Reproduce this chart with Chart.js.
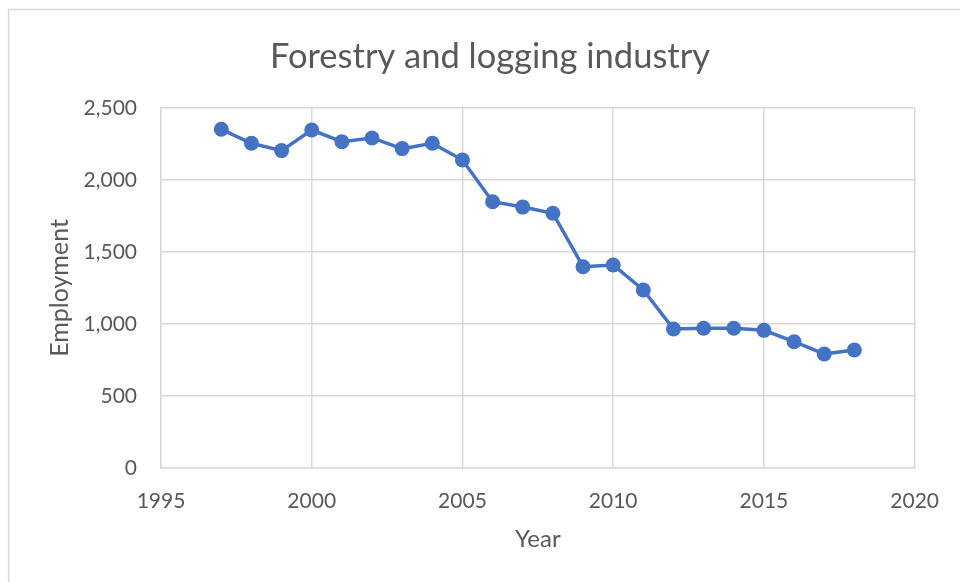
<!DOCTYPE html>
<html>
<head>
<meta charset="utf-8">
<title>Forestry and logging industry</title>
<script src="https://cdn.jsdelivr.net/npm/chart.js@4/dist/chart.umd.min.js"></script>
<style>
  html, body { margin: 0; padding: 0; background: #ffffff; }
  #wrap { width: 960px; height: 582px; position: relative; }
</style>
</head>
<body>
<div id="wrap"><canvas id="chart" width="960" height="582"></canvas></div>
<script>
// Employment in the forestry and logging industry, by year
const years = [1997, 1998, 1999, 2000, 2001, 2002, 2003, 2004, 2005, 2006, 2007,
               2008, 2009, 2010, 2011, 2012, 2013, 2014, 2015, 2016, 2017, 2018];
const employment = [2352, 2255, 2204, 2347, 2266, 2292, 2218, 2255, 2139, 1849, 1812,
                    1769, 1398, 1410, 1236, 965, 970, 970, 956, 877, 792, 819];
const xTicks = [1995, 2000, 2005, 2010, 2015, 2020];
const yTicks = [0, 500, 1000, 1500, 2000, 2500];

const FONT = "Lato, 'Open Sans', 'Liberation Sans', sans-serif";
const TEXT = '#595959';
const GRID = '#d9d9d9';
const SERIES = '#4472C4';

const points = years.map((y, i) => ({ x: y, y: employment[i] }));

// Light outline along the top and left edges of the chart frame
const frame = {
  id: 'frame',
  beforeDraw(chart) {
    const ctx = chart.ctx;
    ctx.save();
    ctx.fillStyle = '#ffffff';
    ctx.fillRect(0, 0, chart.width, chart.height);
    ctx.strokeStyle = GRID;
    ctx.lineWidth = 1.5;
    ctx.beginPath();
    ctx.moveTo(8.5, chart.height);
    ctx.lineTo(8.5, 9.5);
    ctx.lineTo(chart.width, 9.5);
    ctx.stroke();
    ctx.restore();
  }
};

new Chart(document.getElementById('chart'), {
  type: 'scatter',
  data: {
    datasets: [{
      label: 'Employment',
      data: points,
      showLine: true,
      borderColor: SERIES,
      backgroundColor: SERIES,
      borderWidth: 3.5,
      pointRadius: 7.5,
      pointHoverRadius: 7.5,
      pointBorderWidth: 0,
      tension: 0
    }]
  },
  options: {
    responsive: false,
    animation: false,
    events: [],
    layout: { padding: { left: 20, right: 0, top: 0, bottom: 0 } },
    plugins: {
      legend: { display: false },
      tooltip: { enabled: false },
      title: {
        display: true,
        text: 'Forestry and logging industry',
        color: TEXT,
        font: { family: FONT, size: 34.5, weight: 'normal', lineHeight: 1.2 },
        padding: { top: 36, bottom: 30.6 }
      }
    },
    scales: {
      x: {
        type: 'linear',
        min: 1995,
        max: 2020,
        afterBuildTicks(scale) { scale.ticks = xTicks.map(v => ({ value: v })); },
        afterFit(scale) { scale.height = 114; },
        grid: { color: GRID, lineWidth: 1.5, drawTicks: false },
        border: { color: GRID, width: 1.5 },
        ticks: {
          color: TEXT,
          font: { family: FONT, size: 21 },
          padding: 21,
          maxRotation: 0,
          callback: v => String(v)
        },
        title: {
          display: true,
          text: 'Year',
          color: TEXT,
          font: { family: FONT, size: 24 },
          padding: { top: 0, bottom: 28 }
        }
      },
      y: {
        type: 'linear',
        min: 0,
        max: 2500,
        afterBuildTicks(scale) { scale.ticks = yTicks.map(v => ({ value: v })); },
        afterFit(scale) { scale.width = 141; },
        grid: { color: GRID, lineWidth: 1.5, drawTicks: false },
        border: { color: GRID, width: 1.5 },
        ticks: {
          color: TEXT,
          font: { family: FONT, size: 21 },
          padding: 24,
          callback: v => v.toLocaleString('en-US')
        },
        title: {
          display: true,
          text: 'Employment',
          color: TEXT,
          font: { family: FONT, size: 25 },
          padding: { top: 25, bottom: 0 }
        }
      },
      // empty strip on the right so the plot stops short of the frame edge
      gutter: {
        type: 'linear',
        position: 'right',
        display: true,
        afterFit(scale) { scale.width = 45; },
        grid: { display: false },
        border: { display: false },
        ticks: { display: false }
      }
    }
  },
  plugins: [frame]
});
</script>
</body>
</html>
